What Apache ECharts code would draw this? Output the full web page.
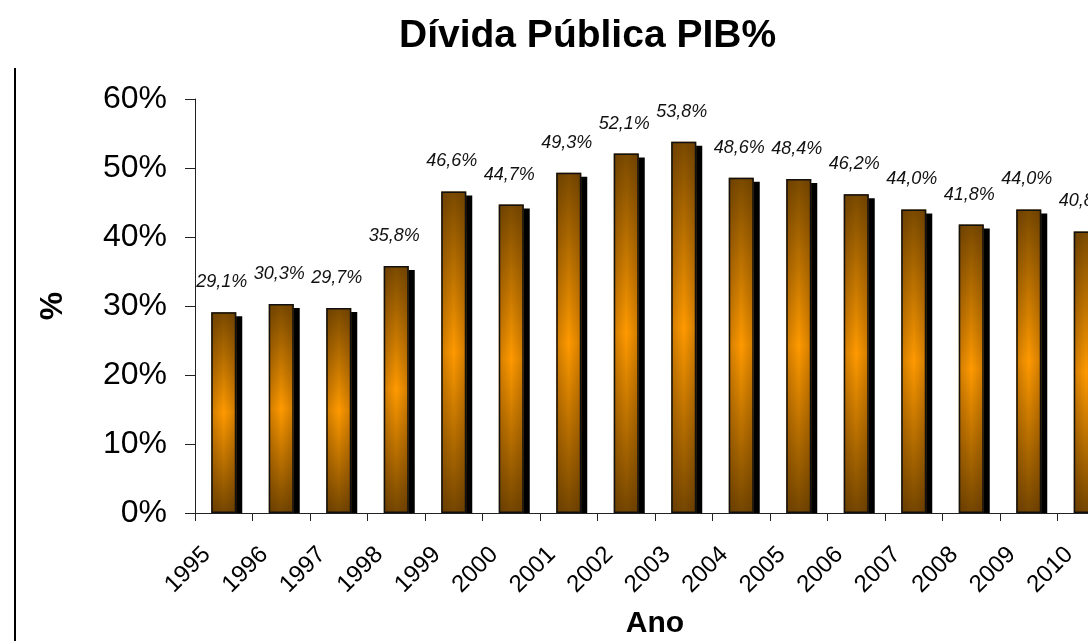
<!DOCTYPE html>
<html>
<head>
<meta charset="utf-8">
<title>Dívida Pública PIB%</title>
<script src="https://cdn.jsdelivr.net/npm/echarts@6/dist/echarts.min.js"></script>
<style>
  html, body { margin: 0; padding: 0; background: #ffffff; }
  #chart { width: 1088px; height: 641px; }
</style>
</head>
<body>
<div id="chart"></div>
<script>
// Public debt as a share of GDP, by year
const years = ['1995', '1996', '1997', '1998', '1999', '2000', '2001', '2002',
               '2003', '2004', '2005', '2006', '2007', '2008', '2009', '2010'];
const debtPct = [29.1, 30.3, 29.7, 35.8, 46.6, 44.7, 49.3, 52.1,
                 53.8, 48.6, 48.4, 46.2, 44.0, 41.8, 44.0, 40.8];
const yMax = 60;
const yStep = 10;

const FONT = '"Liberation Sans", Arial, Helvetica, sans-serif';
// the plot area runs a little past the right edge of the page
const GRID_LEFT = 195, GRID_TOP = 99, GRID_WIDTH = 920, GRID_HEIGHT = 414;
const PAGE_W = 1088, PAGE_H = 641;

const fmtPct = v => v.toFixed(1).replace('.', ',') + '%';

const chart = echarts.init(document.getElementById('chart'));

chart.setOption({
  animation: false,
  backgroundColor: '#ffffff',
  title: {
    text: 'Dívida Pública PIB%',
    left: 394,
    top: 12,
    textStyle: { fontFamily: FONT, fontSize: 39, fontWeight: 'bold', color: '#000' }
  },
  grid: {
    left: GRID_LEFT, top: GRID_TOP, width: GRID_WIDTH, height: GRID_HEIGHT,
    containLabel: false,
    outerBoundsMode: 'none'
  },
  xAxis: {
    type: 'category',
    data: years,
    z: 10,
    name: 'Ano',
    nameLocation: 'middle',
    nameGap: 96,
    nameTextStyle: { fontFamily: FONT, fontSize: 30, fontWeight: 'bold', color: '#000' },
    axisLine: { lineStyle: { color: '#222', width: 1 } },
    axisTick: { show: true, length: 8, lineStyle: { color: '#222' } },
    axisLabel: {
      rotate: 45,
      interval: 0,
      margin: 21,
      padding: [0, 24, 0, 0],
      fontFamily: FONT,
      fontSize: 24,
      color: '#000'
    }
  },
  yAxis: {
    type: 'value',
    min: 0,
    max: yMax,
    interval: yStep,
    z: 10,
    name: '%',
    nameLocation: 'middle',
    nameRotate: 90,
    nameGap: 126,
    nameTextStyle: { fontFamily: FONT, fontSize: 32, fontWeight: 'bold', color: '#000' },
    axisLine: { show: true, lineStyle: { color: '#222', width: 1 } },
    axisTick: { show: true, length: 10, lineStyle: { color: '#222' } },
    splitLine: { show: false },
    axisLabel: {
      margin: 28,
      fontFamily: FONT,
      fontSize: 32,
      color: '#000',
      formatter: '{value}%'
    }
  },
  series: [
    {
      // bar body with its solid drop shadow
      name: 'Dívida Pública PIB%',
      type: 'bar',
      data: debtPct,
      barWidth: 25,
      z: 2,
      itemStyle: {
        borderWidth: 0,
        shadowColor: '#000',
        shadowBlur: 0,
        shadowOffsetX: 6,
        shadowOffsetY: 4,
        color: new echarts.graphic.LinearGradient(0, 0, 0, 1, [
          { offset: 0, color: '#7a4a00' },
          { offset: 0.5, color: '#ff9a00' },
          { offset: 1, color: '#744600' }
        ])
      },
      label: {
        show: true,
        position: 'top',
        distance: 21,
        offset: [-2, 0],
        fontFamily: FONT,
        fontSize: 18,
        fontStyle: 'italic',
        color: '#111',
        formatter: p => fmtPct(p.value)
      }
    },
    {
      // side shading and outline laid over the same bars
      type: 'bar',
      data: debtPct,
      barWidth: 25,
      barGap: '-100%',
      z: 3,
      silent: true,
      itemStyle: {
        borderColor: '#111',
        borderWidth: 1.5,
        color: new echarts.graphic.LinearGradient(0, 0, 1, 0, [
          { offset: 0, color: 'rgba(70,35,0,0.26)' },
          { offset: 0.5, color: 'rgba(70,35,0,0)' },
          { offset: 1, color: 'rgba(70,35,0,0.26)' }
        ])
      },
      label: { show: false }
    }
  ],
  graphic: [
    {
      // hides the part of the drop shadow below the category axis
      type: 'rect',
      z: 5,
      silent: true,
      shape: { x: GRID_LEFT + 1, y: GRID_TOP + GRID_HEIGHT + 0.5, width: PAGE_W - GRID_LEFT, height: 5 },
      style: { fill: '#ffffff' }
    },
    {
      type: 'line',
      z: 5,
      silent: true,
      shape: { x1: 15, y1: 68, x2: 15, y2: PAGE_H },
      style: { stroke: '#000', lineWidth: 2 }
    }
  ]
});
</script>
</body>
</html>
